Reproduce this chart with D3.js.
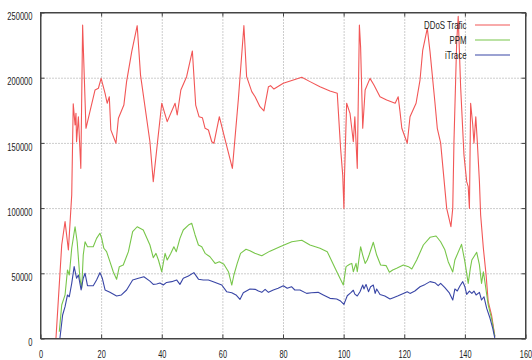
<!DOCTYPE html>
<html>
<head>
<meta charset="utf-8">
<script src="https://cdn.jsdelivr.net/npm/d3@7"></script>
<style>
  body { margin: 0; background: #fff; }
  svg { display: block; }
  .axis text { font-family: "Liberation Sans", Arial, sans-serif; font-size: 11.5px; fill: #222; }
  .axis path, .axis line { stroke: #444; }
  .grid line { stroke: #9a9a9a; stroke-dasharray: 1,2; }
  .grid path { display: none; }
  .legend text { font-family: "Liberation Sans", Arial, sans-serif; font-size: 11.5px; fill: #222; }
</style>
</head>
<body>
<div id="chart"></div>
<script>
// tick labels
const xTicks = [0, 20, 40, 60, 80, 100, 120, 140, 160];
const yTicks = [0, 50000, 100000, 150000, 200000, 250000];

// series names
const seriesNames = ['DDoS Trafic', 'PPM', 'iTrace'];

// DDoS Trafic [x, value]
const ddos = [
  [5.1,0],[7.0,71700],[8.1,89600],[9.2,67900],[10.3,110000],[10.8,180000],[11.4,163700],[11.7,172700],
  [11.9,150900],[12.5,170100],[13.3,130500],[13.9,240400],[14.1,225000],[15.0,161200],[16.3,174000],
  [18.0,190600],[19.1,191900],[20.0,199500],[21.3,188000],[22.0,180400],[22.7,185400],[23.2,160000],
  [24.9,149700],[25.7,168900],[27.5,179000],[28.4,197000],[30.1,220000],[31.9,239900],[33.0,202000],
  [36.1,150900],[37.2,120300],[38.5,148400],[40.0,180400],[41.8,166300],[44.4,180400],[45.1,171400],
  [46.3,190600],[48.2,200800],[50.1,220500],[51.2,179000],[52.3,170100],[53.4,169300],[54.3,161200],
  [55.4,159900],[56.5,150900],[57.2,149700],[59.0,170100],[60.5,156100],[63.3,130500],[65.3,184200],
  [67.1,239900],[68.0,200800],[69.7,189300],[70.8,185400],[72.4,177800],[73.7,174500],[75.2,193100],
  [75.9,193900],[77.0,191300],[80.1,195700],[83.4,198200],[86.2,200300],[88.9,197000],[92.2,193100],
  [95.5,189800],[97.9,188000],[99.0,145900],[99.7,125500],[100.1,99800],[100.3,125500],[101.0,180400],
  [102.1,172700],[103.2,150900],[103.7,170100],[104.5,130500],[105.2,240400],[105.6,223800],[106.3,161200],
  [107.1,190600],[108.7,199500],[110.0,194400],[112.0,185400],[114.2,182900],[117.0,180400],[118.0,185400],
  [118.6,174000],[119.2,161200],[120.0,156100],[121.0,149700],[121.9,170100],[123.9,180400],[125.2,198200],
  [126.1,221200],[127.6,237900],[128.5,220000],[130.1,181600],[130.9,161200],[132.0,150000],[134.0,99800],
  [135.4,85700],[136.0,99800],[136.4,150900],[137.3,227600],[137.8,247000],[138.6,193100],[139.7,140700],
  [140.6,120300],[141.1,116400],[141.5,99800],[141.9,180400],[142.6,163700],[143.0,149700],[143.6,170100],
  [144.1,150900],[144.8,120300],[145.2,94700],[146.1,69200],[147.0,48700],[147.7,28200],[148.8,18000],
  [149.9,1400]
];

// PPM [x, value]
const ppm = [
  [6.2,5200],[7.0,25700],[8.1,33400],[8.9,52500],[9.5,48700],[10.3,69200],[11.4,85700],[12.1,74200],
  [13.0,46200],[13.6,38500],[14.1,64000],[14.7,74200],[15.5,70400],[17.4,70400],[18.5,76800],[19.6,80700],
  [20.2,76800],[20.9,69200],[21.8,66600],[22.9,58900],[24.0,51200],[25.1,45400],[26.0,55100],[27.3,56400],
  [29.0,66600],[30.4,81900],[31.9,85700],[33.9,83200],[36.1,71700],[37.2,62000],[38.1,65300],[38.9,60200],
  [40.0,51200],[41.1,65300],[41.8,60200],[43.0,65300],[44.0,70400],[44.8,66600],[46.0,76800],[47.1,83200],
  [48.8,87000],[49.9,88300],[51.0,79400],[52.1,71700],[53.2,70400],[54.3,65300],[55.9,62700],[57.6,57600],
  [59.0,58900],[60.5,56900],[62.0,51200],[63.1,41000],[63.8,48700],[64.9,57600],[66.0,65300],[67.8,68400],
  [69.1,67300],[70.7,65300],[73.0,63500],[75.7,67000],[79.0,70400],[82.9,74200],[86.2,75300],[88.9,71700],
  [92.2,69200],[94.6,66600],[97.2,53800],[98.8,46200],[99.9,41000],[100.8,55100],[102.0,56900],[102.7,57600],
  [103.2,51200],[104.1,57600],[104.5,51200],[105.6,70400],[106.3,64000],[107.1,57600],[107.8,60200],
  [108.4,64000],[109.8,73800],[110.9,64000],[112.2,56400],[114.0,55900],[115.1,50800],[116.2,52500],
  [117.5,53800],[119.7,56400],[121.4,55100],[122.5,53300],[124.1,60200],[126.3,71700],[128.5,77600],
  [130.5,78600],[132.0,74200],[133.4,68000],[134.5,58900],[136.0,51000],[136.7,60200],[138.9,72200],
  [140.0,58900],[141.1,42300],[141.8,53800],[142.3,60200],[143.9,66100],[144.8,56400],[145.5,42300],
  [146.1,51200],[146.6,43600],[147.7,25700],[148.8,15500],[149.9,1400]
];

// iTrace [x, value]
const itrace = [
  [6.4,0],[7.3,18000],[8.1,24400],[8.9,33400],[9.5,32000],[10.3,42300],[11.1,55100],[11.9,46200],
  [12.5,48700],[13.4,37200],[14.1,46200],[14.7,50000],[15.5,40500],[17.4,40500],[18.5,44900],[19.6,50500],
  [20.4,46200],[21.3,37200],[22.9,35400],[25.1,32600],[26.7,33400],[28.4,37200],[30.4,44900],[32.3,46200],
  [34.1,47400],[36.1,44000],[37.2,41500],[38.3,41800],[39.4,42500],[40.5,41000],[41.6,43000],[43.3,43600],
  [44.9,44900],[46.0,41500],[47.1,46200],[48.8,48000],[50.6,50500],[52.1,45500],[53.7,44900],[55.4,44900],
  [57.0,43600],[59.8,41000],[61.4,35900],[63.1,35100],[64.5,33400],[65.8,30000],[66.9,35100],[69.1,38000],
  [70.8,37700],[71.9,36400],[73.0,35400],[74.1,37700],[75.2,35400],[76.8,37200],[78.4,38500],[80.1,40500],
  [81.4,38500],[82.8,39700],[83.9,37200],[85.6,37200],[87.8,34600],[89.4,35100],[91.6,35400],[93.3,33400],
  [95.5,30800],[97.7,30300],[99.0,28700],[100.1,26200],[101.2,32800],[102.3,35000],[103.2,37000],
  [103.7,34000],[104.5,32600],[105.4,35900],[106.3,41000],[106.7,38000],[107.4,41500],[108.2,35900],
  [108.9,39700],[109.8,41000],[110.4,34600],[110.9,38000],[112.0,33800],[113.6,32600],[115.3,30300],
  [116.4,31300],[118.0,32800],[119.7,34600],[121.0,35900],[121.9,34600],[123.5,36400],[125.2,39700],
  [126.9,41500],[128.5,43600],[130.1,42800],[131.2,40500],[132.0,42300],[133.4,39000],[134.8,35200],
  [136.0,29500],[136.7,38000],[137.5,36400],[138.4,40500],[139.3,43600],[140.0,39700],[140.6,33800],
  [141.5,36400],[142.3,34600],[143.0,36400],[143.7,33400],[144.8,35400],[145.5,29500],[146.3,32000],
  [147.2,23100],[148.3,15500],[149.2,7800],[149.9,0]
];

const colors = ['#f25656', '#78c64a', '#3946a6'];

// chart dimensions
const width = 532, height = 360;
const mLeft = 40.5, mRight = 525.5, mTop = 12.5, mBottom = 338.5;

const x = d3.scaleLinear().domain([0, 160]).range([mLeft, mRight]);
const y = d3.scaleLinear().domain([0, 250000]).range([mBottom, mTop]);

const svg = d3.select('#chart').append('svg')
  .attr('width', width)
  .attr('height', height);

// narrow the labels like the original
function squeeze(sel, perChar) {
  sel.each(function() {
    const t = d3.select(this);
    t.attr('textLength', t.text().length * perChar).attr('lengthAdjust', 'spacingAndGlyphs');
  });
}

// dotted grid
svg.append('g').attr('class', 'grid')
  .attr('transform', 'translate(0,' + mBottom + ')')
  .call(d3.axisBottom(x).tickValues(xTicks.slice(1, -1)).tickSize(-(mBottom - mTop)).tickFormat(''));
svg.append('g').attr('class', 'grid')
  .attr('transform', 'translate(' + mLeft + ',0)')
  .call(d3.axisLeft(y).tickValues(yTicks.slice(1, -1)).tickSize(-(mRight - mLeft)).tickFormat(''));

// lines
const line = d3.line().x(d => x(d[0])).y(d => y(d[1]));
[ddos, ppm, itrace].forEach((s, i) => {
  svg.append('path')
    .datum(s)
    .attr('fill', 'none')
    .attr('stroke', colors[i])
    .attr('stroke-width', 1.1)
    .attr('stroke-linejoin', 'round')
    .attr('d', line);
});

// axes, ticks pointing inward, mirrored
const xAxis = svg.append('g').attr('class', 'axis')
  .attr('transform', 'translate(0,' + mBottom + ')')
  .call(d3.axisBottom(x).tickValues(xTicks).tickSizeInner(-4).tickSizeOuter(0).tickPadding(11));
xAxis.selectAll('text').call(squeeze, 4.1);

const yAxis = svg.append('g').attr('class', 'axis')
  .attr('transform', 'translate(' + mLeft + ',0)')
  .call(d3.axisLeft(y).tickValues(yTicks).tickSizeInner(-4).tickSizeOuter(0).tickPadding(8).tickFormat(d3.format('d')));
yAxis.selectAll('text').attr('dy', '0.62em').call(squeeze, 4.2);

svg.append('g').attr('class', 'axis')
  .attr('transform', 'translate(0,' + mTop + ')')
  .call(d3.axisTop(x).tickValues(xTicks).tickSizeInner(-4).tickSizeOuter(0).tickFormat(''));
svg.append('g').attr('class', 'axis')
  .attr('transform', 'translate(' + mRight + ',0)')
  .call(d3.axisRight(y).tickValues(yTicks).tickSizeInner(-4).tickSizeOuter(0).tickFormat(''));

// frame
svg.append('rect')
  .attr('x', mLeft).attr('y', mTop)
  .attr('width', mRight - mLeft).attr('height', mBottom - mTop)
  .attr('fill', 'none').attr('stroke', '#444');

// legend
const legendWidths = [42.5, 17, 21.5];
const legend = svg.append('g').attr('class', 'legend');
seriesNames.forEach((name, i) => {
  const ly = 25 + i * 15;
  legend.append('text')
    .attr('x', 466.5).attr('y', ly)
    .attr('dy', '0.35em')
    .attr('text-anchor', 'end')
    .attr('textLength', legendWidths[i])
    .attr('lengthAdjust', 'spacingAndGlyphs')
    .text(name);
  legend.append('line')
    .attr('x1', 475).attr('x2', 510)
    .attr('y1', ly).attr('y2', ly)
    .attr('stroke', colors[i])
    .attr('stroke-width', 1.1);
});
</script>
</body>
</html>
